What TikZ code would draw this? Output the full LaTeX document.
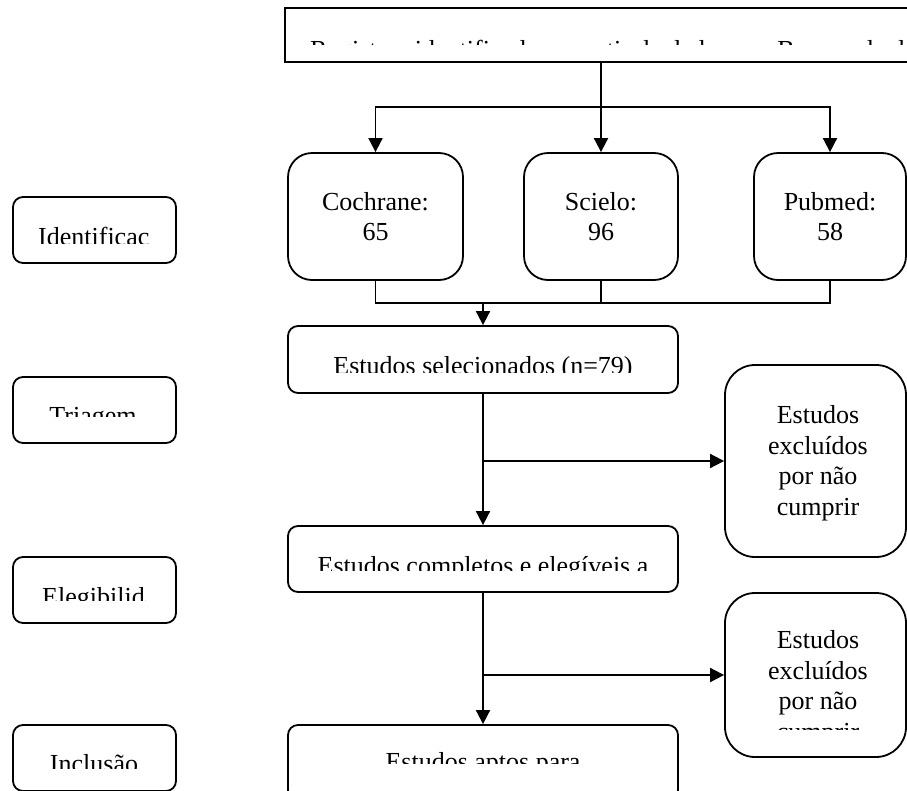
\documentclass[tikz,border=0pt]{standalone}
\usepackage{fontspec}
\setmainfont{Liberation Serif}
\usetikzlibrary{arrows.meta}
\begin{document}
\begin{tikzpicture}[x=1pt,y=-1pt,
  every node/.style={font=\fontsize{26}{30.5}\selectfont},
  lw/.style={line width=1.8pt},
  arr/.style={line width=1.8pt,-{Triangle[length=14pt,width=14pt]}},
  topbox/.style={draw,line width=1.8pt,inner sep=0pt,minimum width=645pt,minimum height=54pt},
  labelbox/.style={draw,line width=1.8pt,rounded corners=10pt,inner sep=0pt,minimum width=163pt,minimum height=66pt},
  dbbox/.style={draw,line width=1.8pt,rounded corners=24pt,inner sep=0pt,minimum height=127pt,align=center},
  mainbox/.style={draw,line width=1.8pt,rounded corners=10pt,inner sep=0pt,minimum width=390pt},
  exbox/.style={draw,line width=1.8pt,rounded corners=30pt,inner sep=0pt,minimum width=181pt},
  txt/.style={inner sep=0pt},
  multitxt/.style={inner sep=0pt,align=center}
]
\useasboundingbox (0,0) rectangle (907,790);
\clip (0,0) rectangle (907,790);

% ---- boxes ----
\node[topbox] (top) at (607.5,35) {};
\node[dbbox,minimum width=175pt] (coch) at (375.5,216.5) {Cochrane:\\65};
\node[dbbox,minimum width=154pt] (sci) at (601,216.5) {Scielo:\\96};
\node[dbbox,minimum width=152pt] (pub) at (830,216.5) {Pubmed:\\58};

\node[mainbox,minimum height=67pt] (sel) at (483,359.5) {};
\node[mainbox,minimum height=66pt] (comp) at (483,559) {};
\node[mainbox,minimum height=75pt] (apt) at (483,762.5) {};

\node[exbox,minimum height=192pt] (ex1) at (815.5,461) {};
\node[exbox,minimum height=164pt] (ex2) at (815.5,675) {};

\node[labelbox] (idb) at (94.5,230) {};
\node[labelbox] (trib) at (94.5,410) {};
\node[labelbox] (eleb) at (94.5,590) {};
\node[labelbox] (incb) at (94.5,758) {};

% ---- clipped texts ----
\begin{scope}
  \clip (287,10) rectangle (930,44.5);
  \node[txt,anchor=base west] (toptxt) at (310,58) {Registros identificados a partir de dados nos Bancos de dados};
\end{scope}
\begin{scope}
  \clip (290,330) rectangle (676,372);
  \node[txt,anchor=base] (seltxt) at (483,374) {Estudos selecionados (n=79)};
\end{scope}
\begin{scope}
  \clip (290,530) rectangle (676,570);
  \node[txt,anchor=base] (comptxt) at (483,574) {Estudos completos e elegíveis a};
\end{scope}
\begin{scope}
  \clip (290,728) rectangle (676,763);
  \node[txt,anchor=base] (apttxt) at (483,770) {Estudos aptos para};
\end{scope}
\begin{scope}
  \clip (727,368) rectangle (904,522);
  \node[multitxt,anchor=north] (ex1txt) at (818,405.5) {Estudos\\excluídos\\por não\\cumprir};
\end{scope}
\begin{scope}
  \clip (727,596) rectangle (904,729);
  \node[multitxt,anchor=north] (ex2txt) at (818,630.5) {Estudos\\excluídos\\por não\\cumprir};
\end{scope}
\begin{scope}
  \clip (30,200) rectangle (148.5,243);
  \node[txt,anchor=base west] (idtxt) at (38,245) {Identificação};
\end{scope}
\begin{scope}
  \clip (30,380) rectangle (150,416);
  \node[txt,anchor=base] (tritxt) at (93,424) {Triagem};
\end{scope}
\begin{scope}
  \clip (30,560) rectangle (145.5,600);
  \node[txt,anchor=base west] (eletxt) at (42,605) {Elegibilidade};
\end{scope}
\begin{scope}
  \clip (30,728) rectangle (150,768);
  \node[txt,anchor=base] (inctxt) at (94,772) {Inclusão};
\end{scope}

% ---- connectors ----
\coordinate (split) at (601,107);
\coordinate (merge) at (483,303);
\draw[lw] (top.south -| split) -- (split);
\draw[arr] (split) -- (sci.north);
\draw[arr] (split) -| (coch.north);
\draw[arr] (split) -| (pub.north);

\draw[lw] (coch.south) |- (merge) -| (pub.south);
\draw[lw] (sci.south) -- (sci.south |- merge);
\draw[arr] (merge) -- (sel.north);

\draw[arr] (sel.south) -- (comp.north);
\draw[arr] (sel.south |- ex1.west) -- (ex1.west);
\draw[arr] (comp.south) -- (apt.north);
\draw[arr] (comp.south |- ex2.west) -- (ex2.west);
\end{tikzpicture}
\end{document}
